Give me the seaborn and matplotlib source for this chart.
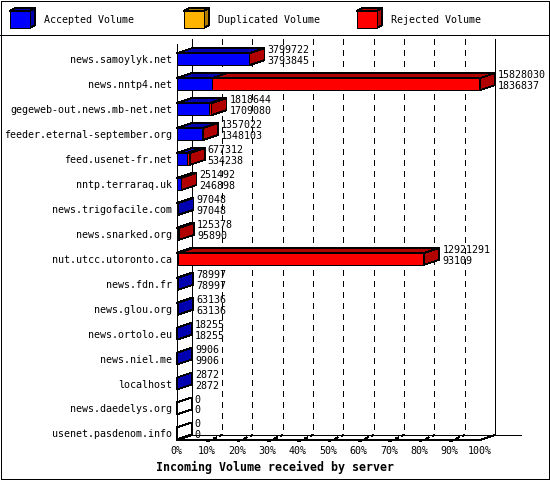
import numpy as np
import pandas as pd
import matplotlib
matplotlib.use("Agg")
import matplotlib.pyplot as plt
from matplotlib.patches import Polygon, Rectangle
import seaborn as sns

# ---- data ----
servers = ['news.samoylyk.net', 'news.nntp4.net', 'gegeweb-out.news.mb-net.net',
           'feeder.eternal-september.org', 'feed.usenet-fr.net', 'nntp.terraraq.uk',
           'news.trigofacile.com', 'news.snarked.org', 'nut.utcc.utoronto.ca',
           'news.fdn.fr', 'news.glou.org', 'news.ortolo.eu', 'news.niel.me',
           'localhost', 'news.daedelys.org', 'usenet.pasdenom.info']
total_volume = [3799722, 15828030, 1818644, 1357022, 677312, 251492, 97048, 125378,
                12921291, 78997, 63136, 18255, 9906, 2872, 0, 0]
accepted_volume = [3793845, 1836837, 1709080, 1348103, 534238, 246898, 97048, 95890,
                   93109, 78997, 63136, 18255, 9906, 2872, 0, 0]
duplicated_volume = [0] * len(servers)
tick_labels = [f"{p}%" for p in range(0, 101, 10)]

legend_names = ['Accepted Volume', 'Duplicated Volume', 'Rejected Volume']
front_colors = ['#0000ff', '#ffb400', '#ff0000']
dark_colors = ['#0000b0', '#b07c00', '#b00000']

# crisp, gd-like lines
plt.rcParams['lines.antialiased'] = False
plt.rcParams['patch.antialiased'] = False

df = pd.DataFrame({'server': servers, 'total': total_volume,
                   'accepted': accepted_volume, 'duplicated': duplicated_volume})
vmax = df['total'].max()
df['acc_pct'] = df['accepted'] / vmax * 100
df['dup_pct'] = (df['accepted'] + df['duplicated']) / vmax * 100
df['tot_pct'] = df['total'] / vmax * 100

W, H = 550, 480
fig = plt.figure(figsize=(W / 100, H / 100), dpi=100)
fig.patch.set_facecolor('white')

# plot area geometry (pixels)
x0_px, x100_px = 176.7, 480.0
row0_px, row_step = 59.2, 24.95
top_px, base_px = 44, 440
px_per_pct = (x100_px - x0_px) / 100
ddx = 15 / px_per_pct          # depth in % units
ddy = 5 / row_step             # depth in row units
y_top = (top_px - row0_px) / row_step
y_base = (base_px - row0_px) / row_step
half = 0.24

ax = fig.add_axes([x0_px / W, (H - base_px) / H, (x100_px - x0_px) / W, (base_px - top_px) / H])
ax.set_facecolor('none')

mono = 'DejaVu Sans Mono'
lw = 0.6

# back wall: grid lines
for k in range(0, 11):
    xs = k * 10 + ddx
    ls = '-' if k in (0, 10) else (0, (7, 7))
    ax.plot([xs, xs], [y_top - ddy, y_base - ddy], color='black', lw=lw, ls=ls,
            zorder=1, clip_on=False)
# floor
ax.plot([ddx, 113.5], [y_base - ddy] * 2, color='black', lw=lw, zorder=1, clip_on=False)
ax.plot([0, 100, 100 + ddx], [y_base, y_base, y_base - ddy], color='black', lw=lw,
        zorder=6, clip_on=False)
ax.plot([0, ddx], [y_base, y_base - ddy], color='black', lw=lw, zorder=6, clip_on=False)
for k in range(1, 10):
    ax.plot([k * 10, k * 10 + ddx], [y_base + 0.06, y_base - ddy], color='black', lw=lw,
            ls=(0, (4, 4)), zorder=6, clip_on=False)
# front axis
ax.plot([0, 0], [y_top, y_base], color='black', lw=lw, zorder=6, clip_on=False)

# front faces, stacked: red (total) under orange under blue
for col, c in zip(['tot_pct', 'dup_pct', 'acc_pct'], front_colors[::-1]):
    sns.barplot(data=df, x=col, y='server', order=servers, color=c, width=2 * half,
                edgecolor='black', linewidth=lw, saturation=1, ax=ax, zorder=3)

# 3D top and side faces
for i, row in df.iterrows():
    segs = [(0, row['acc_pct'], 0), (row['acc_pct'], row['dup_pct'], 1),
            (row['dup_pct'], row['tot_pct'], 2)]
    top = i - half
    bot = i + half
    last = None
    for s, e, ci in segs:
        if e > s:
            ax.add_patch(Polygon([(s, top), (e, top), (e + ddx, top - ddy), (s + ddx, top - ddy)],
                                 closed=True, facecolor=dark_colors[ci], edgecolor='black',
                                 lw=lw, zorder=4, clip_on=False))
            last = ci
    xe = row['tot_pct']
    face = dark_colors[last] if last is not None else 'white'
    ax.add_patch(Polygon([(xe, top), (xe, bot), (xe + ddx, bot - ddy), (xe + ddx, top - ddy)],
                         closed=True, facecolor=face, edgecolor='black', lw=lw, zorder=5,
                         clip_on=False))
    tx = xe + ddx + 1.0
    ax.text(tx, i - 0.36, f"{row['total']}", family=mono, fontsize=7.2, va='center',
            ha='left', zorder=7, clip_on=False)
    ax.text(tx, i + 0.08, f"{row['accepted']}", family=mono, fontsize=7.2, va='center',
            ha='left', zorder=7, clip_on=False)

ax.set_xlim(0, 100)
ax.set_ylim(y_base, y_top)
for sp in ax.spines.values():
    sp.set_visible(False)
ax.set_xlabel('')
ax.set_ylabel('')
ax.set_xticks(range(0, 101, 10))
ax.set_xticklabels(tick_labels, family=mono, fontsize=7.2)
ax.tick_params(axis='x', length=0, pad=4)
ax.set_yticks(range(len(servers)))
ax.set_yticklabels(servers, family=mono, fontsize=7.2)
ax.tick_params(axis='y', length=0, pad=3.2)

# overlay in pixel units: frame, legend, title
ov = fig.add_axes([0, 0, 1, 1], zorder=10)
ov.set_xlim(0, W)
ov.set_ylim(H, 0)
ov.axis('off')
ov.add_patch(Rectangle((0.5, 0.5), W - 2, H - 2, fill=False, edgecolor='black', lw=lw))
ov.plot([0, W], [35, 35], color='black', lw=lw)

legend_x = [10, 184, 357]
for lx, name, fc, dc in zip(legend_x, legend_names, front_colors, dark_colors):
    bx0, bx1, by0, by1, bdx, bdy = lx, lx + 20, 11, 28, 5, 3
    ov.add_patch(Polygon([(bx0, by0), (bx1, by0), (bx1 + bdx, by0 - bdy), (bx0 + bdx, by0 - bdy)],
                         closed=True, facecolor=dc, edgecolor='black', lw=lw))
    ov.add_patch(Polygon([(bx1, by0), (bx1, by1), (bx1 + bdx, by1 - bdy), (bx1 + bdx, by0 - bdy)],
                         closed=True, facecolor=dc, edgecolor='black', lw=lw))
    ov.add_patch(Rectangle((bx0, by0), bx1 - bx0, by1 - by0, facecolor=fc, edgecolor='black', lw=lw))
    ov.text(lx + 34, 20, name, family=mono, fontsize=7.2, va='center', ha='left')

ov.text(156, 467, 'Incoming Volume received by server', family=mono, fontsize=8.4,
        fontweight='bold', va='center', ha='left')

fig.savefig('out.png', dpi=100)
